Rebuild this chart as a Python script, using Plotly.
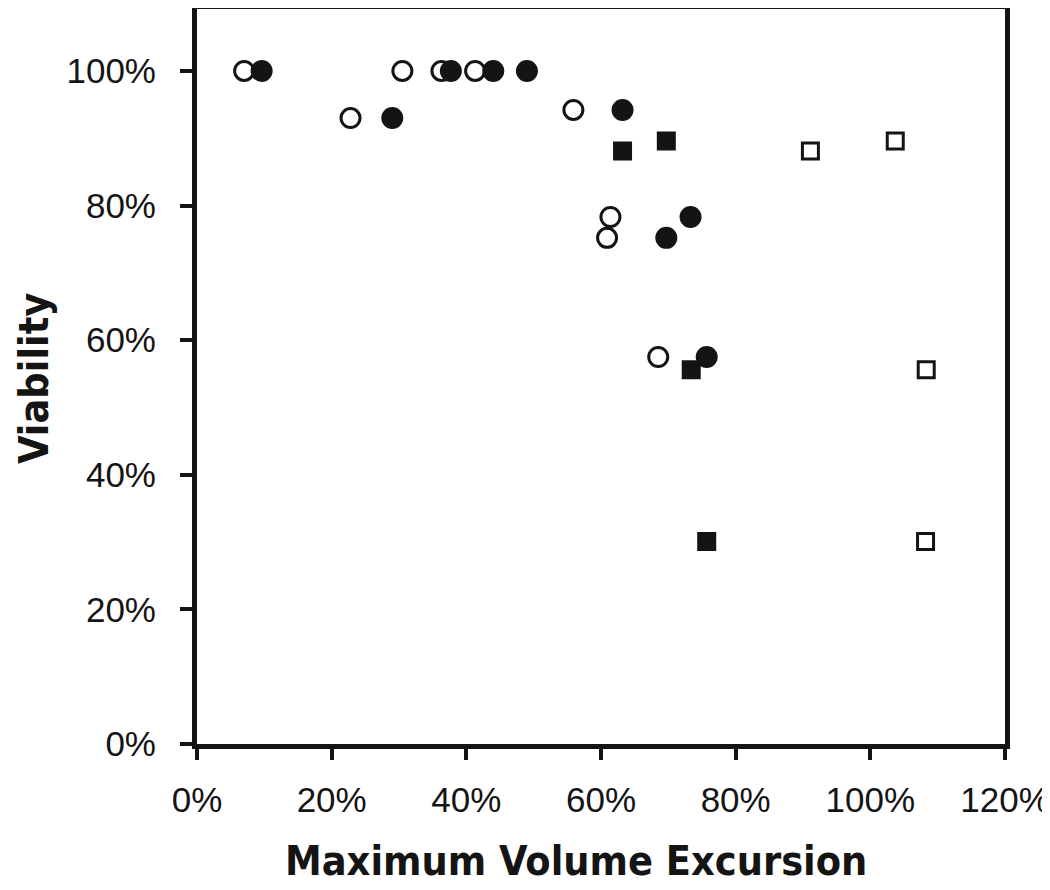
import plotly.graph_objects as go

# Data (fractions)
open_circle_x = [0.070, 0.305, 0.363, 0.413, 0.228, 0.559, 0.614, 0.609, 0.685]
open_circle_y = [1.000, 1.000, 1.000, 1.000, 0.930, 0.942, 0.783, 0.752, 0.575]

filled_circle_x = [0.096, 0.377, 0.440, 0.490, 0.290, 0.632, 0.733, 0.697, 0.757]
filled_circle_y = [1.000, 1.000, 1.000, 1.000, 0.930, 0.942, 0.783, 0.752, 0.575]

filled_square_x = [0.632, 0.697, 0.734, 0.757]
filled_square_y = [0.881, 0.896, 0.556, 0.301]

open_square_x = [0.911, 1.037, 1.083, 1.082]
open_square_y = [0.881, 0.896, 0.556, 0.301]

x_ticks = [0, 0.2, 0.4, 0.6, 0.8, 1.0, 1.2]
x_labels = ["0%", "20%", "40%", "60%", "80%", "100%", "120%"]
y_ticks = [0, 0.2, 0.4, 0.6, 0.8, 1.0]
y_labels = ["0%", "20%", "40%", "60%", "80%", "100%"]

INK = "#141414"
fig = go.Figure()
fig.add_trace(go.Scatter(x=open_circle_x, y=open_circle_y, mode="markers",
                         marker=dict(symbol="circle", size=19, color="white",
                                     line=dict(color=INK, width=3)), showlegend=False))
fig.add_trace(go.Scatter(x=open_square_x, y=open_square_y, mode="markers",
                         marker=dict(symbol="square", size=16, color="white",
                                     line=dict(color=INK, width=3)), showlegend=False))
fig.add_trace(go.Scatter(x=filled_square_x, y=filled_square_y, mode="markers",
                         marker=dict(symbol="square", size=17, color=INK,
                                     line=dict(color=INK, width=2)), showlegend=False))
fig.add_trace(go.Scatter(x=filled_circle_x, y=filled_circle_y, mode="markers",
                         marker=dict(symbol="circle", size=20, color=INK,
                                     line=dict(color=INK, width=2)), showlegend=False))

tick_font = dict(family="Liberation Sans, Arial, sans-serif", size=35, color=INK)
title_font = dict(family="Liberation Sans Narrow, Arial Narrow, DejaVu Sans Condensed, sans-serif",
                  size=41, color=INK)

# page is offset by the 8px default body margin
L, T, PW, PH = 189, 1, 808, 735
W, H = 1042, 882

fig.update_layout(
    width=W, height=H,
    margin=dict(l=L, r=W - L - PW, t=T, b=H - T - PH),
    paper_bgcolor="white", plot_bgcolor="white",
    xaxis=dict(range=[0, 1.2], tickvals=x_ticks, ticktext=x_labels,
               showgrid=False, zeroline=False, showline=True, linecolor=INK,
               linewidth=5, mirror=True, ticks="outside", ticklen=11, tickwidth=4,
               tickcolor=INK, tickfont=tick_font, automargin=False,
               ticklabelstandoff=10),
    yaxis=dict(range=[0, 1.092], tickvals=y_ticks, ticktext=y_labels,
               showgrid=False, zeroline=False, showline=True, linecolor=INK,
               linewidth=5, mirror=True, ticks="outside", ticklen=12, tickwidth=4,
               tickcolor=INK, tickfont=tick_font, automargin=False,
               ticklabelstandoff=17),
    annotations=[
        dict(text="<b>Maximum Volume Excursion</b>", font=title_font, showarrow=False,
             xref="paper", yref="paper", x=(576 - 8 - L) / PW, y=-(861 - 8 - T - PH) / PH,
             xanchor="center", yanchor="middle"),
        dict(text="<b>Viability</b>", font=title_font, showarrow=False, textangle=-90,
             xref="paper", yref="paper", x=-L / PW, y=(736 - (379 - 8)) / PH,
             xanchor="left", yanchor="middle"),
    ],
)

fig.write_html("out.html")
